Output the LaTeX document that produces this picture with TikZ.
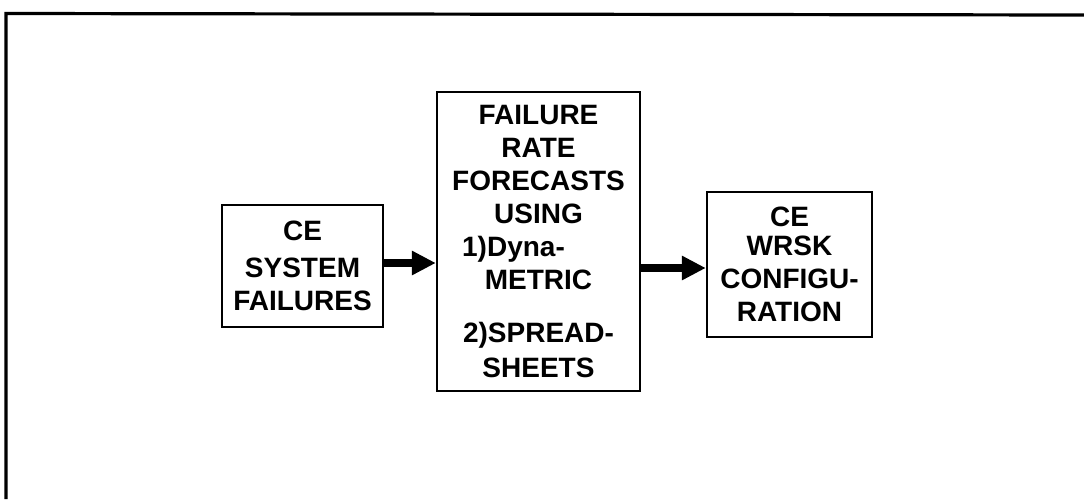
\documentclass[tikz,border=0pt]{standalone}
\usepackage{fontspec}
\setmainfont{Liberation Sans}
\usetikzlibrary{arrows.meta}
\begin{document}
\begin{tikzpicture}[x=1pt,y=-1pt,
  blk/.style={draw,line width=2.4pt,inner sep=0pt,align=center,
    font=\fontsize{28}{33}\selectfont\bfseries},
  flow/.style={line width=8.5pt,-{Triangle[length=24pt,width=23pt]}}]
\useasboundingbox (0,0) rectangle (1084,499);
% outer frame (top and left edges only)
\draw[line width=3.2pt] (6,499) -- (6,13.5) -- (1084,15);
% blocks
\node[blk,minimum width=161pt,minimum height=122pt] (sys) at (302.5,266)
  {CE\\[4pt]SYSTEM\\FAILURES};
\node[blk,minimum width=203pt,minimum height=299pt] (mid) at (538.5,241.5)
  {FAILURE\\RATE\\FORECASTS\\USING\\\hspace*{-50pt}1)Dyna-\\METRIC\\[20pt]2)SPREAD-\\[2pt]SHEETS};
\node[blk,minimum width=165pt,minimum height=145pt] (cfg) at (789.5,264.5)
  {CE\\[-4pt]WRSK\\CONFIGU-\\RATION};
% flow arrows
\draw[flow] ([yshift=3pt]sys.east) -- ([yshift=3pt]mid.west |- sys.east);
\draw[flow] ([yshift=-3.5pt]mid.east |- cfg.west) -- ([yshift=-3.5pt]cfg.west);
\end{tikzpicture}
\end{document}
